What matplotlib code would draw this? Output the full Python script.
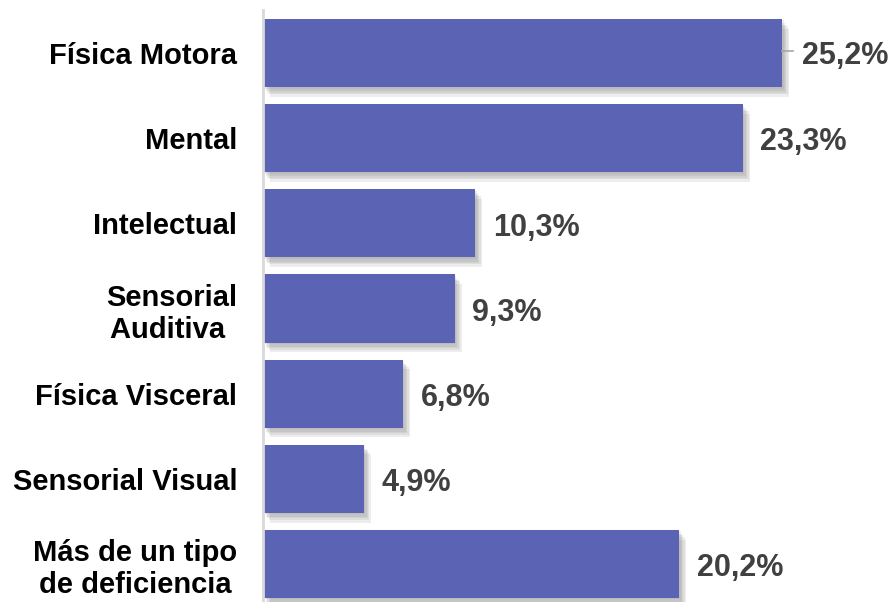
import matplotlib
matplotlib.use('Agg')
import matplotlib.pyplot as plt
import matplotlib.patheffects as pe

categories = ['Física Motora', 'Mental', 'Intelectual', 'Sensorial\nAuditiva ',
              'Física Visceral', 'Sensorial Visual', 'Más de un tipo\nde deficiencia']
values = [25.2, 23.3, 10.3, 9.3, 6.8, 4.9, 20.2]
value_labels = ['25,2%', '23,3%', '10,3%', '9,3%', '6,8%', '4,9%', '20,2%']

plt.rcParams['font.family'] = ['Liberation Sans', 'DejaVu Sans']

fig = plt.figure(figsize=(8.96, 6.02), dpi=100)
ax = fig.add_axes([263 / 896, 0, 1 - 263 / 896, 1 - 10 / 602])

pos = list(range(len(values)))
bars = ax.barh(pos, values, height=0.8, color='#5B63B5', zorder=2)
# soft shadow: a few stacked offsets
shadow = [pe.SimplePatchShadow(offset=(dx, -dy), shadow_rgbFace='#7a7a7a', alpha=0.13)
          for dx, dy in [(1, 1), (2, 3), (3, 4), (4, 5), (5, 7)]]
for b in bars:
    b.set_path_effects(shadow + [pe.Normal()])

ax.set_xlim(0, (896 - 263) / 20.6)
ax.set_ylim(6.447, -0.506)

for i, (v, lab) in enumerate(zip(values, value_labels)):
    if i == 0:
        # short leader line like the original
        ax.plot([v, v + 0.55], [i - 0.02, i - 0.02], color='#A6A6A6', lw=1.2, zorder=3)
        ax.text(v + 0.95, i + 0.04, lab, fontsize=22, fontweight='bold', color='#404040',
                va='center', ha='left')
    else:
        ax.text(v + 0.85, i + 0.05, lab, fontsize=22, fontweight='bold', color='#404040',
                va='center', ha='left')

ax.set_yticks(pos)
ax.set_yticklabels(categories, fontsize=21, fontweight='bold', color='black',
                   multialignment='center')
ax.tick_params(axis='y', length=0, pad=18.5)
ax.set_xticks([])

for s in ['top', 'right', 'bottom']:
    ax.spines[s].set_visible(False)
ax.spines['left'].set_color('#D9D9D9')
ax.spines['left'].set_linewidth(2)

fig.savefig('out.png', dpi=100)
